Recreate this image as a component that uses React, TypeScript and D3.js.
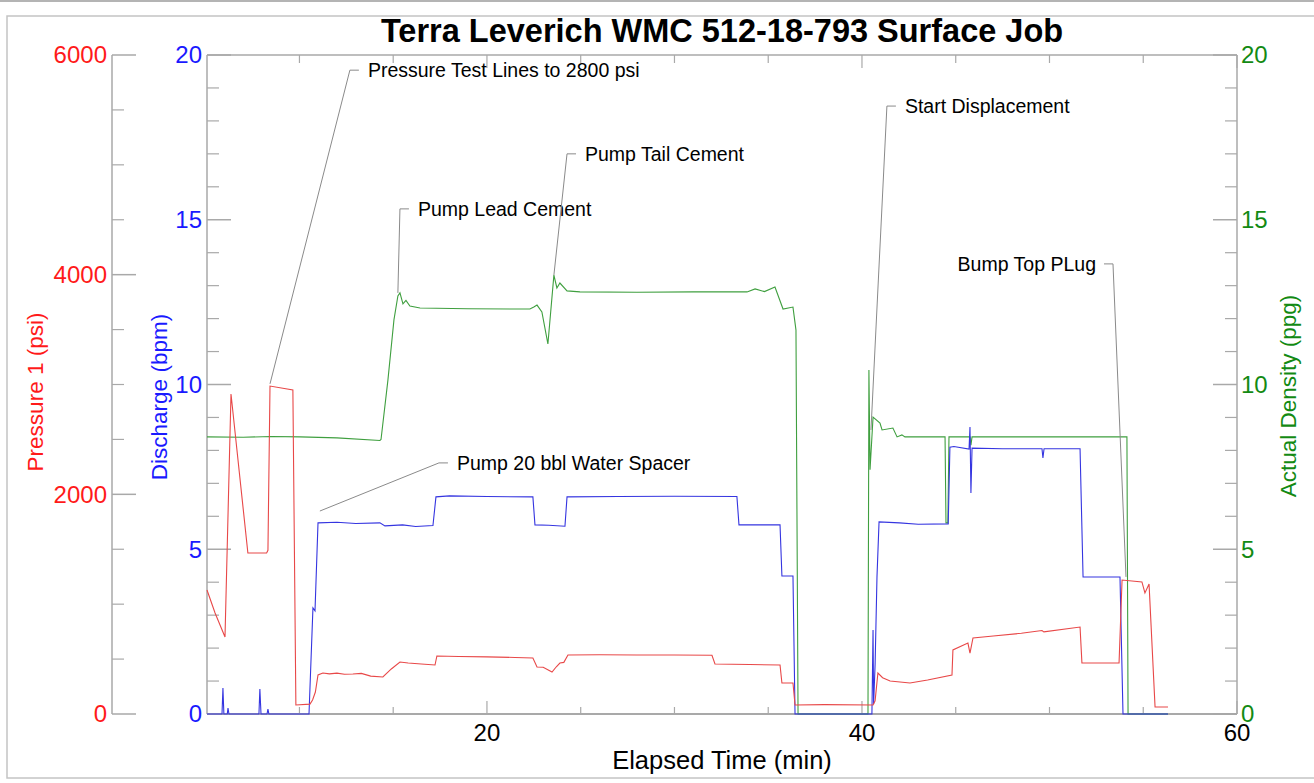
import React from "react";
import * as d3 from "d3";

const W = 1314;
const H = 783;

const titleText = "Terra Leverich WMC 512-18-793 Surface Job";
const xTitle = "Elapsed Time (min)";
const pressureTitle = "Pressure 1 (psi)";
const dischargeTitle = "Discharge (bpm)";
const densityTitle = "Actual Density (ppg)";

const xDomain: [number, number] = [5.07, 60];
const xMajorTicks = [20, 40, 60];
const xMinorTicks = [10, 15, 25, 30, 35, 45, 50, 55];
const pressureMajorTicks = [0, 2000, 4000, 6000];
const pressureMinorTicks = [500, 1000, 1500, 2500, 3000, 3500, 4500, 5000, 5500];
const rateMajorTicks = [0, 5, 10, 15, 20];
const rateMinorTicks = [1, 2, 3, 4, 6, 7, 8, 9, 11, 12, 13, 14, 16, 17, 18, 19];

// [elapsed min, psi]
const pressureSeries: [number, number][] = [
  [5.07, 1129], [5.5, 920], [6.03, 701], [6.35, 2914], [7.25, 1466], [8.25, 1466], [8.32, 1490],
  [8.43, 2986], [9.65, 2950], [9.81, 82], [10.56, 90], [10.7, 127], [10.85, 200], [10.99, 355],
  [11.25, 373], [11.6, 365], [12.0, 372], [12.4, 362], [12.85, 364], [13.3, 370], [13.8, 345],
  [14.45, 337], [14.9, 410], [15.36, 473], [15.8, 465], [16.5, 455], [17.23, 446], [17.33, 528],
  [18.5, 524], [20, 520], [21.5, 515], [22.45, 510], [22.67, 428], [23.0, 425], [23.47, 382],
  [23.7, 430], [23.89, 464], [24.1, 470], [24.32, 537], [26, 540], [28, 537], [30, 537],
  [32.0, 535], [32.16, 455], [34, 450], [35.63, 446], [35.73, 282], [36.32, 282], [36.43, 82],
  [38, 85], [40.59, 82], [40.7, 120], [40.85, 373], [41.1, 330], [41.5, 300], [42.56, 282],
  [43.5, 310], [44.8, 355], [44.85, 583], [45.65, 646], [45.76, 555], [45.92, 692], [47, 710],
  [48.5, 735], [49.6, 760], [49.7, 748], [51.63, 792], [51.73, 464], [53.71, 464], [53.87, 1220],
  [54.93, 1202], [55.09, 1102], [55.31, 1184], [55.63, 64], [56.32, 64],
];

// [elapsed min, bpm]
const dischargeSeries: [number, number][] = [
  [5.07, 0], [5.87, 0], [5.92, 0.79], [5.97, 0], [6.15, 0], [6.19, 0.18], [6.24, 0], [7.84, 0],
  [7.89, 0.76], [7.95, 0], [8.27, 0], [8.32, 0.15], [8.37, 0], [10.51, 0], [10.72, 3.22],
  [10.83, 3.13], [10.99, 5.8], [12, 5.82], [13, 5.78], [14.29, 5.8], [14.56, 5.71], [15.5, 5.74],
  [16.2, 5.69], [17.12, 5.72], [17.28, 6.59], [18, 6.62], [20, 6.6], [22.45, 6.59], [22.56, 5.74],
  [23.3, 5.73], [24.16, 5.7], [24.27, 6.59], [27, 6.6], [30, 6.61], [33.33, 6.6], [33.44, 5.74],
  [35.63, 5.74], [35.73, 4.19], [36.32, 4.19], [36.43, 0], [40.53, 0], [40.59, 2.55], [40.62, 0.3],
  [40.7, 1.5], [40.8, 4.16], [40.91, 5.83], [42, 5.8], [43, 5.76], [44.6, 5.77], [44.69, 8.1],
  [44.9, 8.12], [45.71, 8.04], [45.76, 8.71], [45.81, 6.71], [45.87, 8.07], [47.5, 8.05],
  [49.6, 8.05], [49.65, 7.77], [49.71, 8.05], [51.63, 8.05], [51.79, 4.16], [53.76, 4.16],
  [53.92, 0], [56.32, 0],
];

// [elapsed min, ppg]
const densitySeries: [number, number][] = [
  [5.07, 8.41], [7, 8.4], [8.5, 8.42], [10.03, 8.41], [12, 8.38], [14.29, 8.3], [14.35, 8.33],
  [14.72, 10.14], [15.04, 11.96], [15.25, 12.69], [15.36, 12.78], [15.52, 12.45], [15.68, 12.55],
  [15.89, 12.38], [16.43, 12.32], [19, 12.3], [22.29, 12.29], [22.5, 12.35], [22.67, 12.41],
  [22.93, 12.2], [23.25, 11.23], [23.57, 13.32], [23.73, 12.93], [23.89, 13.08], [24.27, 12.84],
  [24.96, 12.81], [28, 12.8], [31, 12.81], [33.87, 12.81], [34.3, 12.9], [34.8, 12.82],
  [35.36, 12.96], [35.79, 12.29], [36.32, 12.35], [36.48, 11.65], [36.59, 0], [40.32, 0],
  [40.37, 10.44], [40.43, 7.41], [40.59, 9.01], [40.96, 8.83], [41.07, 8.62], [41.65, 8.68],
  [41.87, 8.41], [42.13, 8.47], [42.29, 8.41], [44.43, 8.41], [44.48, 5.8], [44.58, 5.8],
  [44.64, 8.41], [45.76, 8.41], [45.81, 8.16], [45.87, 8.41], [54.13, 8.41], [54.19, 0], [56.32, 0],
];

// annotation labels: text, label point (min, bpm-scale), anchor point (min, bpm-scale), side
const annotationTexts = [
  "Pressure Test Lines to 2800 psi",
  "Pump Lead Cement",
  "Pump Tail Cement",
  "Start Displacement",
  "Bump Top PLug",
  "Pump 20 bbl Water Spacer",
];
const annotationLabelAt: [number, number][] = [
  [13.65, 19.54], [16.32, 15.33], [25.23, 17.0], [42.29, 18.45], [52.48, 13.66], [18.4, 7.62],
];
const annotationAnchorAt: [number, number][] = [
  [8.43, 10.02], [15.25, 12.78], [23.57, 13.32], [40.48, 8.62], [54.08, 4.16], [11.09, 6.16],
];
const annotationSide = ["left", "left", "left", "left", "right", "left"];

const RED = "#ff1a1a";
const BLUE = "#1a1aff";
const GREEN = "#138a13";
const AXIS = "#a9a9a9";
const FONT = "'Liberation Sans', Arial, sans-serif";

export default function App() {
  const left = 207;
  const right = 1237;
  const top = 55;
  const bottom = 714;
  const pAxisX = 112;

  const x = d3.scaleLinear().domain(xDomain).range([left, right]);
  const yP = d3.scaleLinear().domain([0, 6000]).range([bottom, top]);
  const yQ = d3.scaleLinear().domain([0, 20]).range([bottom, top]);
  const yD = d3.scaleLinear().domain([0, 20]).range([bottom, top]);

  const lineP = d3.line<[number, number]>().x((d) => x(d[0])).y((d) => yP(d[1]));
  const lineQ = d3.line<[number, number]>().x((d) => x(d[0])).y((d) => yQ(d[1]));
  const lineD = d3.line<[number, number]>().x((d) => x(d[0])).y((d) => yD(d[1]));

  return (
    <svg
      width={W}
      height={H}
      style={{ position: "absolute", left: 0, top: 0, background: "#fff" }}
      fontFamily={FONT}
    >
      <rect x={0} y={0} width={W} height={2} fill="#b4b4b4" />
      <rect x={7} y={16} width={W + 20} height={762} fill="none" stroke="#c4c4c4" strokeWidth={1.5} />

      <text x={722} y={42} textAnchor="middle" fontSize={32.5} fontWeight="bold" fill="#000">
        {titleText}
      </text>

      {/* plot frame */}
      <line x1={left} x2={right} y1={top} y2={top} stroke={AXIS} strokeWidth={1.5} />
      <line x1={left} x2={right} y1={bottom} y2={bottom} stroke={AXIS} strokeWidth={2} />
      <line x1={left} x2={left} y1={top} y2={bottom} stroke={AXIS} strokeWidth={1.5} />
      <line x1={right} x2={right} y1={top} y2={bottom} stroke={AXIS} strokeWidth={1.5} />

      {/* x ticks */}
      {xMajorTicks.map((t) => (
        <g key={"xm" + t}>
          <line x1={x(t)} x2={x(t)} y1={bottom} y2={bottom - 13} stroke={AXIS} strokeWidth={1.2} />
          <line x1={x(t)} x2={x(t)} y1={top} y2={top + 13} stroke={AXIS} strokeWidth={1.2} />
          <text x={x(t)} y={741} textAnchor="middle" fontSize={24} fill="#000">
            {t}
          </text>
        </g>
      ))}
      {xMinorTicks.map((t) => (
        <g key={"xn" + t}>
          <line x1={x(t)} x2={x(t)} y1={bottom} y2={bottom - 7} stroke={AXIS} strokeWidth={1.2} />
          <line x1={x(t)} x2={x(t)} y1={top} y2={top + 8} stroke={AXIS} strokeWidth={1.2} />
        </g>
      ))}
      <text x={722} y={769} textAnchor="middle" fontSize={25.5} fill="#000">
        {xTitle}
      </text>

      {/* pressure axis */}
      <line x1={pAxisX} x2={pAxisX} y1={top} y2={bottom} stroke={AXIS} strokeWidth={1.5} />
      {pressureMajorTicks.map((v) => (
        <g key={"pm" + v}>
          <line x1={pAxisX} x2={pAxisX + 24} y1={yP(v)} y2={yP(v)} stroke={AXIS} strokeWidth={1.5} />
          <text x={pAxisX - 5} y={yP(v)} dy="0.35em" textAnchor="end" fontSize={24} fill={RED}>
            {v}
          </text>
        </g>
      ))}
      {pressureMinorTicks.map((v) => (
        <line key={"pn" + v} x1={pAxisX} x2={pAxisX + 12} y1={yP(v)} y2={yP(v)} stroke={AXIS} strokeWidth={1.2} />
      ))}
      <text
        transform={`translate(43,392) rotate(-90)`}
        textAnchor="middle"
        fontSize={22.5}
        fill={RED}
      >
        {pressureTitle}
      </text>

      {/* discharge axis */}
      {rateMajorTicks.map((v) => (
        <g key={"qm" + v}>
          <line x1={left} x2={left + 24} y1={yQ(v)} y2={yQ(v)} stroke={AXIS} strokeWidth={1.5} />
          <text x={left - 5} y={yQ(v)} dy="0.35em" textAnchor="end" fontSize={24} fill={BLUE}>
            {v}
          </text>
        </g>
      ))}
      {rateMinorTicks.map((v) => (
        <line key={"qn" + v} x1={left} x2={left + 12} y1={yQ(v)} y2={yQ(v)} stroke={AXIS} strokeWidth={1.2} />
      ))}
      <text
        transform={`translate(167,397) rotate(-90)`}
        textAnchor="middle"
        fontSize={22.5}
        fill={BLUE}
      >
        {dischargeTitle}
      </text>

      {/* density axis */}
      {rateMajorTicks.map((v) => (
        <g key={"dm" + v}>
          <line x1={right} x2={right - 24} y1={yD(v)} y2={yD(v)} stroke={AXIS} strokeWidth={1.5} />
          <text x={right + 4} y={yD(v)} dy="0.35em" textAnchor="start" fontSize={24} fill={GREEN}>
            {v}
          </text>
        </g>
      ))}
      {rateMinorTicks.map((v) => (
        <line key={"dn" + v} x1={right} x2={right - 12} y1={yD(v)} y2={yD(v)} stroke={AXIS} strokeWidth={1.2} />
      ))}
      <text
        transform={`translate(1296,396) rotate(-90)`}
        textAnchor="middle"
        fontSize={22.5}
        fill={GREEN}
      >
        {densityTitle}
      </text>

      {/* series */}
      <path d={lineD(densitySeries) || ""} fill="none" stroke="#3f9f3f" strokeWidth={1.1} />
      <path d={lineQ(dischargeSeries) || ""} fill="none" stroke="#3535e0" strokeWidth={1.1} />
      <path d={lineP(pressureSeries) || ""} fill="none" stroke="#e84848" strokeWidth={1.1} />

      {/* annotations */}
      {annotationTexts.map((txt, i) => {
        const [lt, lv] = annotationLabelAt[i];
        const [at, av] = annotationAnchorAt[i];
        const lx = x(lt);
        const ly = yQ(lv);
        const side = annotationSide[i];
        const sx = side === "left" ? lx - 9 : lx + 8;
        const ex = side === "left" ? sx - 9 : sx + 9;
        return (
          <g key={"an" + i}>
            <polyline
              points={`${sx},${ly} ${ex},${ly} ${x(at)},${yQ(av)}`}
              fill="none"
              stroke="#8a8a8a"
              strokeWidth={1}
            />
            <text
              x={lx}
              y={ly}
              dy="0.35em"
              textAnchor={side === "left" ? "start" : "end"}
              fontSize={19.5}
              fill="#000"
            >
              {txt}
            </text>
          </g>
        );
      })}
    </svg>
  );
}
